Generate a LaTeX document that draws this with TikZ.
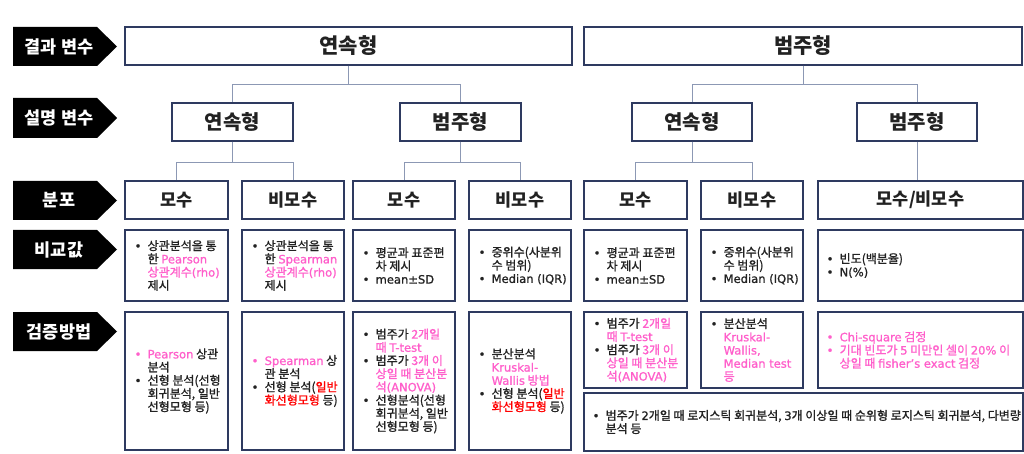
\documentclass[tikz,border=0pt]{standalone}
\usepackage{fontspec}
\setmainfont{Noto Sans CJK KR}
\newfontfamily\bodyf{Noto Sans CJK KR}[FakeBold=1.2]
\newfontfamily\latf{DejaVu Sans}[Scale=0.96, FakeBold=1.0]
\newcommand\la[1]{{\latf #1}}
\definecolor{bd}{HTML}{2E3A60}
\definecolor{cn}{HTML}{8C98B4}
\definecolor{pk}{HTML}{FF5FCB}
\definecolor{rd}{HTML}{FF0000}
\definecolor{tx}{HTML}{222222}
\newcommand\bu{\makebox[13pt][l]{\latf •}}
\newcommand\ii{\hspace*{13pt}}
\begin{document}
\begin{tikzpicture}[x=1pt,y=-1pt,
  box/.style={draw=bd, line width=1.1pt, fill=white, inner sep=0pt, text=tx},
  hA/.style={box, minimum height=38pt, font=\fontsize{21}{25}\selectfont\bfseries},
  hB/.style={box, minimum height=38pt, font=\fontsize{20}{24}\selectfont\bfseries},
  hC/.style={box, minimum height=38pt, font=\fontsize{17.5}{21}\selectfont\bfseries},
  vb/.style={box, minimum height=71pt},
  tb/.style={box, minimum height=138pt},
  sb/.style={box, minimum height=76pt},
  txt/.style={anchor=west, inner sep=0pt, align=left, text=tx, font=\bodyf\fontsize{12}{13.2}\selectfont},
  lab/.style={text=white, inner sep=0pt, font=\fontsize{17.5}{20}\selectfont\bfseries},
  conn/.style={draw=cn, line width=0.9pt}
]
\useasboundingbox (0,0) rectangle (1024,454);
% left labels
\fill (13,27) -- (97,27) -- (117,46.5) -- (97,66) -- (13,66) -- cycle;
\node[lab] (L1) at (59,46.5) {결과 변수};
\fill (13,98) -- (97,98) -- (117,118) -- (97,138) -- (13,138) -- cycle;
\node[lab] (L2) at (59,118) {설명 변수};
\fill (13,181) -- (97,181) -- (117,200.5) -- (97,220) -- (13,220) -- cycle;
\node[lab] (L3) at (59,200.5) {분포};
\fill (13,230) -- (97,230) -- (117,249.5) -- (97,269) -- (13,269) -- cycle;
\node[lab] (L4) at (59,249.5) {비교값};
\fill (13,312) -- (97,312) -- (117,331.5) -- (97,351) -- (13,351) -- cycle;
\node[lab] (L5) at (59,331.5) {검증방법};
% row 1
\node[hA, minimum width=447pt] (A) at (348.5,46) {연속형};
\node[hA, minimum width=438pt] (B) at (803,46) {범주형};
% row 2
\node[hB, minimum width=121pt] (C1) at (232.5,122) {연속형};
\node[hB, minimum width=121pt] (C2) at (460.5,122) {범주형};
\node[hB, minimum width=120pt] (C3) at (692,122) {연속형};
\node[hB, minimum width=120pt] (C4) at (917,122) {범주형};
% row 3
\node[hC, minimum width=103pt] (D1) at (176.5,200) {모수};
\node[hC, minimum width=102pt] (D2) at (293,200) {비모수};
\node[hC, minimum width=102pt] (D3) at (404,200) {모수};
\node[hC, minimum width=102pt] (D4) at (520,200) {비모수};
\node[hC, minimum width=103pt] (D5) at (635.5,200) {모수};
\node[hC, minimum width=102pt] (D6) at (752,200) {비모수};
\node[hC, minimum width=205pt] (D7) at (920.5,200) {모수/비모수};
% connectors
\draw[conn] (A.south) -- ++(0,19) -| (C1.north);
\draw[conn] (A.south) -- ++(0,19) -| (C2.north);
\draw[conn] (B.south) -- ++(0,19) -| (C3.north);
\draw[conn] (B.south) -- ++(0,19) -| (C4.north);
\draw[conn] (C1.south) -- ++(0,21) -| (D1.north);
\draw[conn] (C1.south) -- ++(0,21) -| (D2.north);
\draw[conn] (C2.south) -- ++(0,21) -| (D3.north);
\draw[conn] (C2.south) -- ++(0,21) -| (D4.north);
\draw[conn] (C3.south) -- ++(0,21) -| (D5.north);
\draw[conn] (C3.south) -- ++(0,21) -| (D6.north);
\draw[conn] (C4.south) -- (C4.south |- D7.north);
% row 4
\node[vb, minimum width=103pt] (E1) at (176.5,265.5) {};
\node[vb, minimum width=102pt] (E2) at (293,265.5) {};
\node[vb, minimum width=102pt] (E3) at (404,265.5) {};
\node[vb, minimum width=102pt] (E4) at (520,265.5) {};
\node[vb, minimum width=103pt] (E5) at (635.5,265.5) {};
\node[vb, minimum width=102pt] (E6) at (752,265.5) {};
\node[vb, minimum width=205pt] (E7) at (920.5,265.5) {};
\node[txt] (E1t) at ([xshift=10pt]E1.west) {\bu 상관분석을 통\\\ii 한 \textcolor{pk}{\la{Pearson}}\\\ii \textcolor{pk}{상관계수\la{(rho)}}\\\ii 제시};
\node[txt] (E2t) at ([xshift=10pt]E2.west) {\bu 상관분석을 통\\\ii 한 \textcolor{pk}{\la{Spearman}}\\\ii \textcolor{pk}{상관계수\la{(rho)}}\\\ii 제시};
\node[txt] (E3t) at ([xshift=10pt]E3.west) {\bu 평균과 표준편\\\ii 차 제시\\\bu \la{mean±SD}};
\node[txt] (E4t) at ([xshift=10pt]E4.west) {\bu 중위수(사분위\\\ii 수 범위)\\\bu \la{Median (IQR)}};
\node[txt] (E5t) at ([xshift=10pt]E5.west) {\bu 평균과 표준편\\\ii 차 제시\\\bu \la{mean±SD}};
\node[txt] (E6t) at ([xshift=10pt]E6.west) {\bu 중위수(사분위\\\ii 수 범위)\\\bu \la{Median (IQR)}};
\node[txt] (E7t) at ([xshift=9pt]E7.west) {\bu 빈도(백분율)\\\bu \la{N(\%)}};
% row 5
\node[tb, minimum width=103pt] (F1) at (176.5,381) {};
\node[tb, minimum width=102pt] (F2) at (293,381) {};
\node[tb, minimum width=102pt] (F3) at (404,381) {};
\node[tb, minimum width=102pt] (F4) at (520,381) {};
\node[sb, minimum width=103pt] (F5) at (635.5,350) {};
\node[sb, minimum width=102pt] (F6) at (752,350) {};
\node[sb, minimum width=205pt] (F7) at (920.5,350) {};
\node[box, minimum width=439pt, minimum height=58pt] (F8) at (803.5,422) {};
\node[txt] (F1t) at ([xshift=10pt]F1.west) {\textcolor{pk}{\bu \la{Pearson}} 상관\\\ii 분석\\\bu 선형 분석(선형\\\ii 회귀분석, 일반\\\ii 선형모형 등)};
\node[txt] (F2t) at ([xshift=10pt]F2.west) {\textcolor{pk}{\bu \la{Spearman}} 상\\\ii 관 분석\\\bu 선형 분석(\textcolor{rd}{일반}\\\ii \textcolor{rd}{화선형모형} 등)};
\node[txt] (F3t) at ([xshift=10pt]F3.west) {\bu 범주가 \textcolor{pk}{2개일}\\\ii \textcolor{pk}{때 \la{T-test}}\\\bu 범주가 \textcolor{pk}{3개 이}\\\ii \textcolor{pk}{상일 때 분산분}\\\ii \textcolor{pk}{석\la{(ANOVA)}}\\\bu 선형분석(선형\\\ii 회귀분석, 일반\\\ii 선형모형 등)};
\node[txt] (F4t) at ([xshift=10pt]F4.west) {\bu 분산분석\\\ii \textcolor{pk}{\la{Kruskal-}}\\\ii \textcolor{pk}{\la{Wallis} 방법}\\\bu 선형 분석(\textcolor{rd}{일반}\\\ii \textcolor{rd}{화선형모형} 등)};
\node[txt] (F5t) at ([xshift=10pt]F5.west) {\bu 범주가 \textcolor{pk}{2개일}\\\ii \textcolor{pk}{때 \la{T-test}}\\\bu 범주가 \textcolor{pk}{3개 이}\\\ii \textcolor{pk}{상일 때 분산분}\\\ii \textcolor{pk}{석\la{(ANOVA)}}};
\node[txt] (F6t) at ([xshift=10pt]F6.west) {\bu 분산분석\\\ii \textcolor{pk}{\la{Kruskal-}}\\\ii \textcolor{pk}{\la{Wallis,}}\\\ii \textcolor{pk}{\la{Median test}}\\\ii \textcolor{pk}{등}};
\node[txt] (F7t) at ([xshift=9pt]F7.west) {\textcolor{pk}{\bu \la{Chi-square} 검정}\\\textcolor{pk}{\bu 기대 빈도가 \la{5} 미만인 셀이 \la{20\%} 이}\\\ii \textcolor{pk}{상일 때 \la{fisher’s exact} 검정}};
\node[txt] (F8t) at ([xshift=9pt]F8.west) {\bu 범주가 \la{2}개일 때 로지스틱 회귀분석, \la{3}개 이상일 때 순위형 로지스틱 회귀분석, 다변량\\\ii 분석 등};
\end{tikzpicture}
\end{document}
